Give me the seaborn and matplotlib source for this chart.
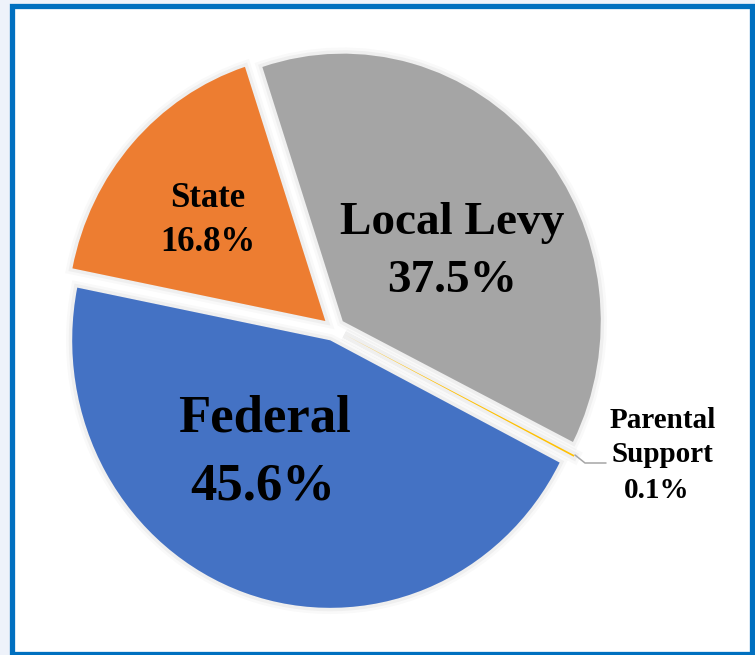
import matplotlib
matplotlib.use("Agg")
import matplotlib.pyplot as plt
import matplotlib.patheffects as pe
from matplotlib.patches import Rectangle
import seaborn as sns

# ---- data ----
categories = ["Federal", "State", "Local Levy", "Parental\nSupport"]
shares = [45.6, 16.8, 37.5, 0.1]
colors = ["#4472C4", "#ED7D31", "#A5A5A5", "#FFC000"]

sns.set_theme(style="white")
plt.rcParams["font.family"] = ["Liberation Serif", "DejaVu Serif"]

W, H = 755, 655
K = 1.037  # slight horizontal squeeze seen in the reference
fig = plt.figure(figsize=(W / 100, H / 100), dpi=100)
fig.patch.set_facecolor("#EEF2FA")
ax = fig.add_axes([0, 0, 1, 1])

def X(x):  # pixel column -> data x
    return x * K

def Y(y):  # pixel row (from top) -> data y
    return H - y

R = 267.5
wedges, _ = ax.pie(shares, colors=colors, startangle=-27.2, counterclock=False,
                   explode=[12, 12, 12, 12], radius=R,
                   center=(X(334), Y(329)), frame=True,
                   wedgeprops=dict(linewidth=0))
ax.set_xlim(0, X(W))
ax.set_ylim(0, H)
ax.set_aspect("auto")
ax.axis("off")

# framed white panel with blue border
ax.add_patch(Rectangle((X(12), Y(653.5)), X(751.5) - X(12), 653.5 - 6, facecolor="white",
                       edgecolor="#0070C0", linewidth=3.8, zorder=0))

for w in wedges:
    w.set_path_effects([
        pe.Stroke(linewidth=9, foreground="black", alpha=0.025),
        pe.Stroke(linewidth=5, foreground="black", alpha=0.04),
        pe.Normal(),
    ])
    w.set_zorder(2)

fs = {"Federal": 38, "State": 25, "Local Levy": 34}
pos = {"Federal": ((264, 432), (263, 499)),
       "State": ((208, 207), (208, 251)),
       "Local Levy": ((452, 234), (452, 292))}
for cat, val in zip(categories[:3], shares[:3]):
    (x1, y1), (x2, y2) = pos[cat]
    ax.text(X(x1), Y(y1), cat, ha="center", va="baseline", fontsize=fs[cat],
            fontweight="bold", color="black", zorder=5)
    ax.text(X(x2), Y(y2), f"{val:.1f}%", ha="center", va="baseline", fontsize=fs[cat],
            fontweight="bold", color="black", zorder=5)

# small slice label with leader line
ax.plot([X(575), X(585), X(606)], [Y(455), Y(463), Y(463)], color="#A6A6A6", lw=1.1, zorder=3)
lines = categories[3].split("\n") + [f"{shares[3]:.1f}%"]
for txt, (x, y) in zip(lines, [(663, 428), (662, 462), (657, 498)]):
    ax.text(X(x), Y(y), txt, ha="center", va="baseline", fontsize=21,
            fontweight="bold", color="black", zorder=5)

fig.savefig("out.png", dpi=100, facecolor=fig.get_facecolor())
